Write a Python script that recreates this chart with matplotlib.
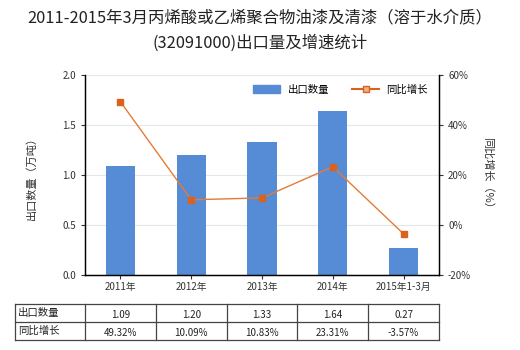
import matplotlib.pyplot as plt
from matplotlib.lines import Line2D

plt.rcParams['font.family'] = ['Noto Sans CJK SC', 'DejaVu Sans']

categories = ["2011年", "2012年", "2013年", "2014年", "2015年1-3月"]
export_qty = [1.09, 1.20, 1.33, 1.64, 0.27]
growth = [49.32, 10.09, 10.83, 23.31, -3.57]
qty_labels = ["1.09", "1.20", "1.33", "1.64", "0.27"]
growth_labels = ["49.32%", "10.09%", "10.83%", "23.31%", "-3.57%"]

W, H = 520, 350
fig = plt.figure(figsize=(W / 100, H / 100), dpi=100)

# axes in pixel box: x 85..439, y 75..275
L, R, T, B = 85, 439, 75, 275
ax = fig.add_axes([L / W, 1 - B / H, (R - L) / W, (B - T) / H])
ax2 = ax.twinx()

bar_color = "#558cd5"
line_color = "#d9631e"

x = range(len(categories))
ax.bar(x, export_qty, width=0.41, color=bar_color, zorder=2, label="出口数量")
ax.set_xlim(-0.5, len(categories) - 0.5)
ax.set_ylim(0, 2.0)
ax.set_yticks([0, 0.5, 1.0, 1.5, 2.0])
ax.set_yticklabels(["0.0", "0.5", "1.0", "1.5", "2.0"])
ax.set_xticks(list(x))
ax.set_xticklabels(categories)
ax.yaxis.grid(True, color="#dfe9ea", linewidth=0.8, zorder=0)
ax.set_axisbelow(True)

ax2.plot(x, growth, color="#e57b35", linewidth=1.0, marker="s", markersize=5,
         markerfacecolor=line_color, markeredgecolor=line_color, zorder=3)
ax2.set_ylim(-20, 60)
ax2.set_yticks([-20, 0, 20, 40, 60])
ax2.set_yticklabels(["-20%", "0%", "20%", "40%", "60%"])

for a in (ax, ax2):
    a.tick_params(labelsize=7, length=3, width=0.8, colors="#333333", labelcolor="#333333")
    a.spines["top"].set_visible(False)
    a.spines["left"].set_linewidth(0.9)
    a.spines["right"].set_linewidth(0.9)
    a.spines["bottom"].set_linewidth(0.9)
ax.tick_params(axis="x", length=3, pad=2)

ax.set_ylabel("出口数量（万吨）", fontsize=8, color="#333333", labelpad=18)
ax2.set_ylabel("同比增长（%）", fontsize=8, color="#333333", rotation=-90, labelpad=16)

handles = [plt.Rectangle((0, 0), 1, 1, color=bar_color),
           Line2D([0], [0], color=line_color, linewidth=1.5, marker="s", markersize=4,
                  markerfacecolor="#f0b080", markeredgecolor=line_color)]
ax.legend(handles, ["出口数量", "同比增长"], loc="upper right", bbox_to_anchor=(0.995, 1.0),
          ncol=2, frameon=False, fontsize=7.5, handlelength=2.6, columnspacing=2.2,
          handletextpad=0.7)

fig.text(0.5, 1 - 18 / H, "2011-2015年3月丙烯酸或乙烯聚合物油漆及清漆（溶于水介质）",
         ha="center", va="center", fontsize=11.8, color="#222222")
fig.text(0.5, 1 - 43 / H, "(32091000)出口量及增速统计",
         ha="center", va="center", fontsize=11.8, color="#222222")

# data table under the chart
tl, tr = 15, 439
rows_y = [304, 322, 340]
col_x = [tl] + [L + i * (R - L) / len(categories) for i in range(len(categories) + 1)]
for yy in rows_y:
    fig.add_artist(Line2D([tl / W, tr / W], [1 - yy / H, 1 - yy / H], color="#444444", linewidth=0.9))
for xx in col_x:
    fig.add_artist(Line2D([xx / W, xx / W], [1 - rows_y[0] / H, 1 - rows_y[-1] / H], color="#444444", linewidth=0.9))

row_names = ["出口数量", "同比增长"]
row_vals = [qty_labels, growth_labels]
for r in range(2):
    yc = 1 - (rows_y[r] + rows_y[r + 1]) / 2 / H
    fig.text((tl + 3) / W, yc, row_names[r], ha="left", va="center", fontsize=7.5, color="#222222")
    for i, v in enumerate(row_vals[r]):
        xc = (col_x[i + 1] + col_x[i + 2]) / 2 / W
        fig.text(xc, yc - 1.5 / H, v, ha="center", va="center", fontsize=7, color="#222222")

fig.savefig("out.png", dpi=100)
